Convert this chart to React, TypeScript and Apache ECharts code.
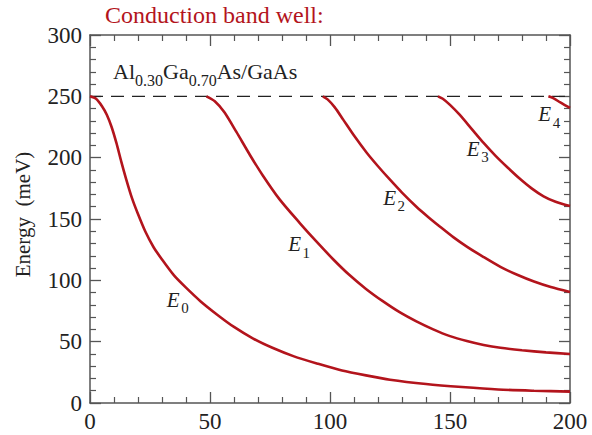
import React, { useEffect, useRef } from 'react';
import * as echarts from 'echarts';

const FONT = "'Liberation Serif', 'Times New Roman', serif";
const RED = '#b3141c';

const xRange = [0, 200];
const yRange = [0, 300];
const xStep = 50;
const yStep = 50;
const barrierHeight = 250;

const E0 = [[0, 250], [2.5, 248], [5, 242], [7, 235], [9, 225], [11, 212], [13, 197], [15, 183], [17.5, 167], [20, 154], [23, 140], [26.5, 127], [30, 117], [35, 104], [40, 94], [46, 83], [53, 72], [60, 62], [68, 52.5], [76, 45], [85, 38], [95, 32], [105, 26.5], [115, 22.5], [125, 19], [140, 15.5], [155, 13], [170, 11], [185, 10], [200, 9.3]];
const E1 = [[48.5, 250], [52, 246], [56, 237], [61, 221], [66.7, 202], [72, 185.5], [79, 166], [87.5, 146.5], [94.4, 131.5], [101.4, 117], [108, 104.5], [115, 93], [122, 83], [129, 74], [136, 66.5], [143, 60], [150, 54.5], [157, 50.5], [164, 47.3], [171, 45], [180, 43], [190, 41.3], [200, 40]];
const E2 = [[97, 250], [99, 247.5], [102, 241], [105.5, 231], [110, 218], [115.3, 204], [120, 193], [125, 182], [130, 171.5], [136, 160], [141, 151.5], [146, 143.5], [151.5, 135], [157, 127.5], [164, 119], [171, 111], [178, 104.5], [185, 99], [192, 94.5], [200, 90.5]];
const E3 = [[145, 250], [147, 248], [150, 243], [154, 235], [159, 223.5], [164, 212], [169, 201.5], [174, 192], [179, 183], [184, 175], [189, 168.5], [194, 164], [200, 160.5]];
const E4 = [[191, 250], [193, 248.5], [196, 245], [200, 240.5]];
const levels = [E0, E1, E2, E3, E4];
const levelSubs = ['0', '1', '2', '3', '4'];
const labelAnchors = [[32, 78.3], [82.6, 123.6], [122.2, 161.7], [157, 201.6], [186.8, 229.6]];

const titleText = 'Conduction band well:';
const yName = 'Energy  (meV)';
const materialPieces = [
  { t: 'Al', sub: false },
  { t: '0.30', sub: true },
  { t: 'Ga', sub: false },
  { t: '0.70', sub: true },
  { t: 'As/GaAs', sub: false },
];

export default function App() {
  const ref = useRef<HTMLDivElement>(null);
  useEffect(() => {
    const chart = echarts.init(ref.current!, null, { renderer: 'svg' });
    const axisCommon = {
      type: 'value' as const,
      axisLine: { show: true, onZero: false, lineStyle: { color: '#555', width: 1.5 } },
      axisTick: { show: true, inside: true, length: 11, lineStyle: { color: '#555', width: 1.3 } },
      minorTick: { show: true, splitNumber: 5, length: 6, lineStyle: { color: '#555', width: 1.2 } },
      splitLine: { show: false },
      minorSplitLine: { show: false },
    };
    const labelStyle = { fontFamily: FONT, fontSize: 23, color: '#222' };
    const series: any[] = [
      {
        type: 'line',
        data: [[xRange[0], barrierHeight], [xRange[1], barrierHeight]],
        symbol: 'none',
        lineStyle: { type: [13, 8], width: 1.3, color: '#222' },
        z: 1,
        silent: true,
      },
      ...levels.map((d) => ({
        type: 'line',
        data: d,
        symbol: 'none',
        smooth: 0.25,
        lineStyle: { width: 2.6, color: RED },
        z: 2,
      })),
    ];
    chart.setOption({
      animation: false,
      backgroundColor: '#fff',
      grid: { left: 90, right: 22, top: 35, bottom: 32 },
      xAxis: [
        { ...axisCommon, position: 'bottom', min: xRange[0], max: xRange[1], interval: xStep, axisLabel: { ...labelStyle, margin: 7 } },
        { ...axisCommon, position: 'top', min: xRange[0], max: xRange[1], interval: xStep, axisLabel: { show: false } },
      ],
      yAxis: [
        { ...axisCommon, position: 'left', min: yRange[0], max: yRange[1], interval: yStep, axisLabel: { ...labelStyle, margin: 8 } },
        { ...axisCommon, position: 'right', min: yRange[0], max: yRange[1], interval: yStep, axisLabel: { show: false } },
      ],
      series,
    });

    const ctx = document.createElement('canvas').getContext('2d')!;
    const measure = (t: string, size: number, italic = false) => {
      ctx.font = `${italic ? 'italic ' : ''}${size}px ${FONT}`;
      return ctx.measureText(t).width;
    };
    const C = 0.3375;
    const graphics: any[] = [];
    const txt = (text: string, x: number, baseline: number, size: number, fill = '#222', italic = false) => ({
      type: 'text',
      x,
      y: baseline - C * size,
      z: 100,
      style: { text, fontSize: size, fontFamily: FONT, fill, fontStyle: italic ? 'italic' : 'normal', align: 'left', verticalAlign: 'middle' },
    });
    graphics.push(txt(titleText, 105, 23, 24, RED));
    let mx = 113;
    const mBase = 79;
    materialPieces.forEach((p) => {
      const size = p.sub ? 16 : 22;
      graphics.push(txt(p.t, mx, p.sub ? mBase + 7 : mBase, size));
      mx += measure(p.t, size);
    });
    graphics.push({
      type: 'text',
      x: 30 - C * 21,
      y: 214.5,
      rotation: Math.PI / 2,
      z: 100,
      style: { text: yName, fontSize: 21, fontFamily: FONT, fill: '#222', align: 'center', verticalAlign: 'middle' },
    });
    labelAnchors.forEach((a, i) => {
      const p = chart.convertToPixel({ xAxisIndex: 0, yAxisIndex: 0 }, a) as number[];
      const ew = measure('E', 21, true);
      graphics.push(txt('E', p[0], p[1], 21, '#222', true));
      graphics.push(txt(levelSubs[i], p[0] + ew + 1.5, p[1] + 6.5, 15));
    });
    chart.setOption({ graphic: graphics });
    return () => chart.dispose();
  }, []);
  return <div ref={ref} style={{ position: 'absolute', left: 0, top: 0, width: 592, height: 435 }} />;
}
